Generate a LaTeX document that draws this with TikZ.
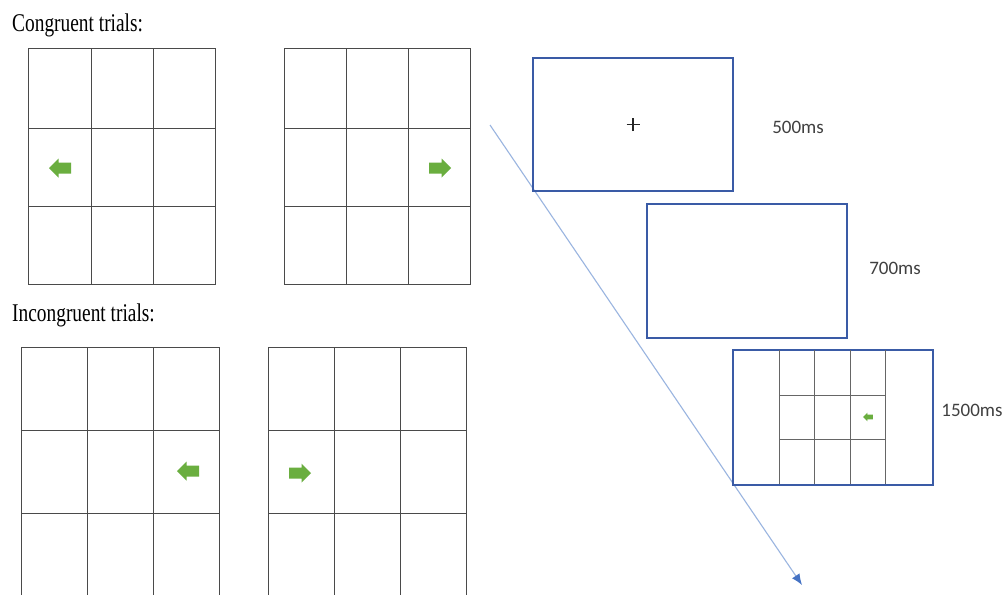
\documentclass[tikz,border=0pt]{standalone}
\usepackage{fontspec}
\setmainfont{Liberation Serif}
\newfontfamily\labfont{Carlito}
\usetikzlibrary{arrows.meta}
\definecolor{gridline}{HTML}{4A4A4A}
\definecolor{arrowgreen}{HTML}{6AAE3F}
\definecolor{boxblue}{HTML}{3A5BA6}
\definecolor{timeline}{HTML}{9AB5E0}
\definecolor{tipblue}{HTML}{4472C4}
\tikzset{
  gridln/.style={draw=gridline, line width=1pt},
  smallgrid/.style={draw=gray!80!black, line width=1pt},
  framebox/.style={draw=boxblue, line width=1.8pt, minimum width=200pt, minimum height=133pt, inner sep=0pt},
  timelab/.style={font=\labfont\fontsize{19}{21}\selectfont, text=black!75},
  headlab/.style={anchor=west, inner sep=0pt, font=\fontsize{25.5}{28}\selectfont},
  larrow/.pic={\fill[arrowgreen] (-11,0) -- (-1.5,-9.5) -- (-1.5,-5.5) -- (11,-5.5) -- (11,5.5) -- (-1.5,5.5) -- (-1.5,9.5) -- cycle;},
}
\begin{document}
\begin{tikzpicture}[x=1pt,y=-1pt]
\useasboundingbox (0,0) rectangle (1003,594);
\fill[white] (0,0) rectangle (1003,594);
% headings
\node[headlab] (hcong) at (12,25) {\scalebox{0.76}[1]{Congruent trials:}};
\node[headlab] (hincong) at (12,315) {\scalebox{0.76}[1]{Incongruent trials:}};
% top-left grid
\draw[gridln] (28,49) rectangle (215,284);
\draw[gridln] (91,49) -- (91,284) (153,49) -- (153,284) (28,128) -- (215,128) (28,206) -- (215,206);
% top-right grid
\draw[gridln] (284,49) rectangle (470,284);
\draw[gridln] (346,49) -- (346,284) (408,49) -- (408,284) (284,128) -- (470,128) (284,206) -- (470,206);
% bottom-left grid
\draw[gridln] (21,600) -- (21,347) -- (219,347) -- (219,600);
\draw[gridln] (87,347) -- (87,600) (153,347) -- (153,600) (21,430) -- (219,430) (21,513) -- (219,513);
% bottom-right grid
\draw[gridln] (268,600) -- (268,347) -- (466,347) -- (466,600);
\draw[gridln] (334,347) -- (334,600) (400,347) -- (400,600) (268,430) -- (466,430) (268,513) -- (466,513);
% green arrows
\pic at (60,168) {larrow};
\pic[xscale=-1] at (440,168) {larrow};
\pic at (188,471) {larrow};
\pic[xscale=-1] at (300,473) {larrow};
% timeline
\coordinate (tstart) at (490,125);
\coordinate (tend) at (802,585);
\draw[timeline, line width=1.1pt, -{Latex[length=11pt,width=9pt,color=tipblue]}] (tstart) -- (tend);
% frames
\node[framebox] (f1) at (633,124.5) {};
\node[framebox, minimum height=134pt] (f2) at (747,271) {};
\node[framebox, minimum height=135pt] (f3) at (833,417.5) {};
\draw[black!85, line width=1.5pt] ([xshift=-6.5pt]f1.center) -- ([xshift=6.5pt]f1.center)
  ([yshift=-6.5pt]f1.center) -- ([yshift=6.5pt]f1.center);
% small grid in frame 3
\draw[smallgrid] (779,350) -- (779,484) (814,350) -- (814,484) (850,350) -- (850,484) (885,350) -- (885,484)
  (779,395) -- (885,395) (779,439) -- (885,439);
\pic[scale=0.45] at (868,417) {larrow};
% time labels
\node[timelab] (t1) at (798,127) {500ms};
\node[timelab] (t2) at (895,268) {700ms};
\node[timelab] (t3) at (972,410) {1500ms};
\end{tikzpicture}
\end{document}
